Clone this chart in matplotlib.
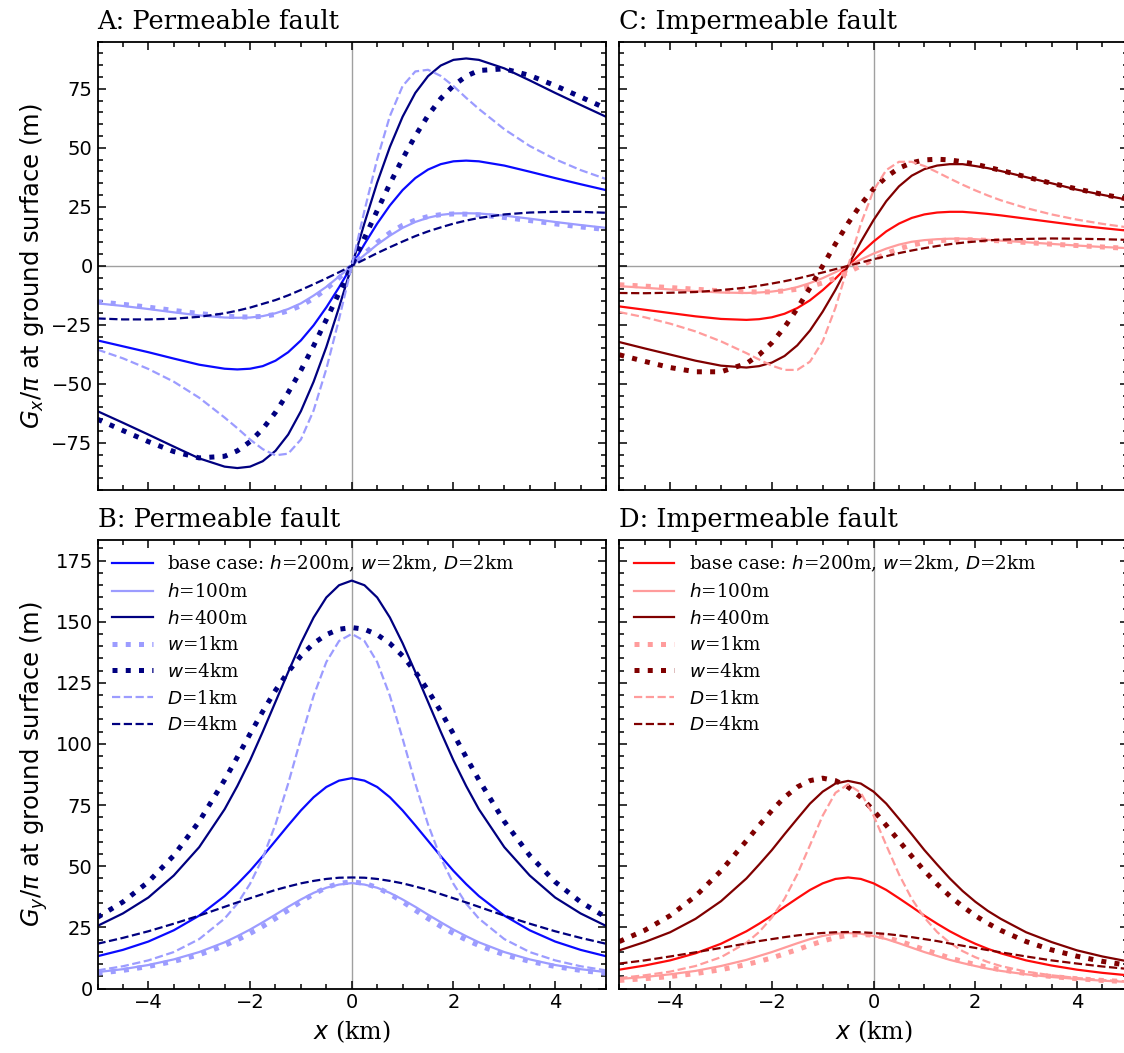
import matplotlib.pyplot as plt
from matplotlib.ticker import MultipleLocator

# x positions (km) shared by every curve
x_km = [-5, -4.5, -4, -3.5, -3, -2.5, -2.25, -2, -1.75, -1.5, -1.25, -1, -0.75, -0.5, -0.25, 0,
        0.25, 0.5, 0.75, 1, 1.25, 1.5, 1.75, 2, 2.25, 2.5, 3, 3.5, 4, 4.5, 5]

# A: Gx/pi, permeable fault
gx_perm_base = [-31.6, -34.1, -36.6, -39.3, -41.9, -43.6, -43.9, -43.6, -42.5, -40.2, -36.6, -31.6, -25.2, -17.6, -9.1, 0.0,
                9.2, 17.9, 25.6, 32.1, 37.2, 40.8, 43.1, 44.3, 44.6, 44.3, 42.5, 39.9, 37.2, 34.6, 32.1]
gx_perm_h100 = [-15.9, -17.0, -18.3, -19.7, -21.0, -21.9, -22.0, -21.9, -21.3, -20.1, -18.3, -15.9, -12.6, -8.9, -4.5, 0.0,
                4.6, 9.0, 12.8, 16.1, 18.6, 20.4, 21.6, 22.2, 22.3, 22.2, 21.3, 20.0, 18.6, 17.3, 16.1]
gx_perm_h400 = [-61.6, -66.5, -71.5, -76.6, -81.6, -85.1, -85.7, -85.1, -82.8, -78.4, -71.5, -61.6, -49.1, -34.4, -17.6, 0.0,
                18.1, 35.3, 50.4, 63.2, 73.3, 80.4, 84.9, 87.3, 87.9, 87.3, 83.7, 78.6, 73.3, 68.2, 63.2]
gx_perm_w1 = [-15.2, -16.3, -17.5, -18.9, -20.2, -21.3, -21.6, -21.7, -21.4, -20.6, -19.1, -16.9, -13.8, -9.8, -5.1, 0.0,
              5.2, 9.9, 14.0, 17.2, 19.4, 20.9, 21.7, 22.0, 21.9, 21.6, 20.5, 19.2, 17.8, 16.5, 15.4]
gx_perm_w4 = [-65.0, -69.8, -74.5, -78.7, -81.4, -80.7, -78.4, -74.5, -69.1, -62.1, -53.7, -44.3, -33.9, -22.8, -11.5, 0.0,
              11.8, 23.4, 34.8, 45.4, 55.1, 63.7, 70.9, 76.4, 80.4, 82.8, 83.5, 80.7, 76.4, 71.6, 66.7]
gx_perm_d1 = [-35.5, -39.2, -43.7, -49.1, -55.9, -64.3, -68.8, -73.6, -77.7, -80.3, -79.6, -73.6, -61.3, -43.7, -22.6, 0.0,
              23.4, 45.2, 63.5, 76.2, 82.4, 83.1, 80.5, 76.2, 71.2, 66.5, 57.9, 50.8, 45.2, 40.6, 36.8]
gx_perm_d4 = [-22.3, -22.7, -22.7, -22.4, -21.6, -20.1, -19.0, -17.7, -16.1, -14.5, -12.5, -10.2, -7.8, -5.3, -2.7, 0.0,
              2.7, 5.4, 7.9, 10.3, 12.6, 14.6, 16.3, 17.9, 19.2, 20.3, 21.8, 22.6, 22.9, 22.9, 22.5]

# B: Gy/pi, permeable fault
gy_perm_base = [13.2, 15.8, 19.2, 23.8, 29.8, 37.8, 42.7, 48.1, 54.1, 60.4, 66.7, 72.8, 78.2, 82.4, 85.0, 86.0,
                85.0, 82.4, 78.2, 72.8, 66.7, 60.4, 54.1, 48.1, 42.7, 37.8, 29.8, 23.8, 19.2, 15.8, 13.2]
gy_perm_h100 = [6.7, 7.9, 9.6, 11.9, 14.9, 18.9, 21.4, 24.1, 27.1, 30.2, 33.4, 36.4, 39.1, 41.2, 42.5, 43.1,
                42.5, 41.2, 39.1, 36.4, 33.4, 30.2, 27.1, 24.1, 21.4, 18.9, 14.9, 11.9, 9.6, 7.9, 6.7]
gy_perm_h400 = [25.6, 30.7, 37.2, 46.2, 57.8, 73.3, 82.8, 93.3, 105.0, 117.2, 129.4, 141.2, 151.7, 159.9, 164.9, 166.8,
                164.9, 159.9, 151.7, 141.2, 129.4, 117.2, 105.0, 93.3, 82.8, 73.3, 57.8, 46.2, 37.2, 30.7, 25.6]
gy_perm_w1 = [6.2, 7.4, 9.0, 11.1, 13.8, 17.6, 19.9, 22.5, 25.4, 28.6, 32.0, 35.5, 38.6, 41.3, 43.0, 43.6,
              43.0, 41.3, 38.6, 35.5, 32.0, 28.6, 25.4, 22.5, 19.9, 17.6, 13.8, 11.1, 9.0, 7.4, 6.2]
gy_perm_w4 = [29.1, 35.4, 43.6, 54.4, 68.3, 85.3, 94.6, 104.1, 113.3, 121.9, 129.5, 136.0, 141.1, 144.7, 146.9, 147.6,
              146.9, 144.7, 141.1, 136.0, 129.5, 121.9, 113.3, 104.1, 94.6, 85.3, 68.3, 54.4, 43.6, 35.4, 29.1]
gy_perm_d1 = [7.4, 9.1, 11.5, 14.9, 20.2, 28.6, 34.7, 42.8, 53.4, 67.1, 83.8, 102.2, 119.7, 133.5, 142.1, 145.0,
              142.1, 133.5, 119.7, 102.2, 83.8, 67.1, 53.4, 42.8, 34.7, 28.6, 20.2, 14.9, 11.5, 9.1, 7.4]
gy_perm_d4 = [18.3, 20.7, 23.4, 26.5, 29.8, 33.4, 35.2, 36.9, 38.6, 40.3, 41.7, 43.0, 44.0, 44.8, 45.3, 45.4,
              45.3, 44.8, 44.0, 43.0, 41.7, 40.3, 38.6, 36.9, 35.2, 33.4, 29.8, 26.5, 23.4, 20.7, 18.3]

# C: Gx/pi, impermeable fault
gx_imp_base = [-17.2, -18.6, -20.0, -21.4, -22.5, -22.9, -22.6, -21.8, -20.3, -17.9, -14.6, -10.3, -5.4, 0.0, 5.4, 10.3,
               14.6, 17.9, 20.3, 21.8, 22.6, 22.9, 22.9, 22.5, 22.0, 21.4, 20.0, 18.6, 17.2, 16.0, 14.9]
gx_imp_h100 = [-8.6, -9.3, -10.0, -10.7, -11.3, -11.5, -11.3, -10.9, -10.2, -9.0, -7.3, -5.2, -2.7, 0.0, 2.7, 5.2,
               7.3, 9.0, 10.2, 10.9, 11.3, 11.5, 11.5, 11.3, 11.0, 10.7, 10.0, 9.3, 8.6, 8.0, 7.5]
gx_imp_h400 = [-32.3, -35.0, -37.6, -40.2, -42.3, -43.1, -42.5, -41.0, -38.2, -33.7, -27.4, -19.4, -10.2, 0.0, 10.2, 19.4,
               27.4, 33.7, 38.2, 41.0, 42.5, 43.1, 43.1, 42.3, 41.4, 40.2, 37.6, 35.0, 32.3, 30.1, 28.0]
gx_imp_w1 = [-8.0, -8.6, -9.2, -9.9, -10.6, -11.0, -11.1, -11.0, -10.6, -9.9, -8.8, -7.2, -5.2, -2.7, 0.0, 2.7,
             5.2, 7.2, 8.8, 9.9, 10.6, 11.0, 11.1, 11.0, 10.8, 10.6, 9.9, 9.2, 8.6, 8.0, 7.4]
gx_imp_w4 = [-37.7, -40.5, -43.1, -44.9, -44.9, -41.4, -37.7, -32.6, -26.0, -18.1, -9.3, 0.0, 9.3, 18.1, 26.0, 32.6,
             37.7, 41.4, 43.7, 44.9, 45.2, 44.9, 44.1, 43.1, 41.8, 40.5, 37.7, 35.0, 32.6, 30.3, 28.3]
gx_imp_d1 = [-19.6, -21.8, -24.5, -27.8, -32.0, -37.0, -39.7, -42.3, -44.1, -44.1, -40.6, -32.0, -17.8, 0.0, 17.8, 32.0,
             40.6, 44.1, 44.1, 42.3, 39.7, 37.0, 34.4, 32.0, 29.8, 27.8, 24.5, 21.8, 19.6, 17.8, 16.3]
gx_imp_d4 = [-11.5, -11.6, -11.4, -11.1, -10.3, -9.2, -8.4, -7.5, -6.5, -5.4, -4.1, -2.8, -1.4, 0.0, 1.4, 2.8,
             4.1, 5.4, 6.5, 7.5, 8.4, 9.2, 9.8, 10.3, 10.8, 11.1, 11.4, 11.6, 11.5, 11.3, 11.0]

# D: Gy/pi, impermeable fault
gy_imp_base = [7.7, 9.4, 11.5, 14.4, 18.3, 23.4, 26.5, 29.8, 33.4, 36.9, 40.3, 43.0, 44.8, 45.4, 44.8, 43.0,
               40.3, 36.9, 33.4, 29.8, 26.5, 23.4, 20.7, 18.3, 16.2, 14.4, 11.5, 9.4, 7.7, 6.4, 5.4]
gy_imp_h100 = [3.9, 4.7, 5.8, 7.2, 9.2, 11.7, 13.3, 14.9, 16.7, 18.5, 20.2, 21.5, 22.4, 22.7, 22.4, 21.5,
               20.2, 18.5, 16.7, 14.9, 13.3, 11.7, 10.4, 9.2, 8.1, 7.2, 5.8, 4.7, 3.9, 3.2, 2.7]
gy_imp_h400 = [15.6, 19.0, 23.0, 28.5, 35.7, 45.0, 50.7, 56.6, 63.1, 69.4, 75.6, 80.5, 83.8, 84.9, 83.8, 80.5,
               75.6, 69.4, 63.1, 56.6, 50.7, 45.0, 39.9, 35.5, 31.7, 28.5, 23.0, 19.0, 15.6, 13.1, 11.1]
gy_imp_w1 = [3.3, 4.0, 4.9, 6.1, 7.7, 9.8, 11.1, 12.5, 14.2, 15.9, 17.7, 19.4, 20.8, 21.8, 22.1, 21.8,
             20.8, 19.4, 17.7, 15.9, 14.2, 12.5, 11.1, 9.8, 8.6, 7.7, 6.1, 4.9, 4.0, 3.3, 2.8]
gy_imp_w4 = [19.2, 23.8, 29.8, 37.8, 48.1, 60.4, 66.7, 72.8, 78.2, 82.4, 85.0, 86.0, 85.0, 82.4, 78.2, 72.8,
             66.7, 60.4, 54.1, 48.1, 42.7, 37.8, 33.6, 29.8, 26.6, 23.8, 19.2, 15.8, 13.2, 11.1, 9.5]
gy_imp_d1 = [4.3, 5.4, 6.9, 9.2, 12.8, 18.7, 23.1, 29.0, 36.7, 46.7, 58.6, 70.7, 80.0, 83.5, 80.0, 70.7,
             58.6, 46.7, 36.7, 29.0, 23.1, 18.7, 15.3, 12.8, 10.8, 9.2, 6.9, 5.4, 4.3, 3.5, 2.9]
gy_imp_d4 = [10.2, 11.5, 13.1, 14.8, 16.6, 18.4, 19.4, 20.2, 21.0, 21.7, 22.3, 22.7, 23.0, 23.1, 23.0, 22.7,
             22.3, 21.7, 21.0, 20.2, 19.4, 18.4, 17.5, 16.6, 15.7, 14.8, 13.1, 11.5, 10.2, 9.0, 8.0]

case_labels = ['base case: $h$=200m, $w$=2km, $D$=2km', '$h$=100m', '$h$=400m',
               '$w$=1km', '$w$=4km', '$D$=1km', '$D$=4km']

BLUES = {'base': '#0a0aff', 'light': '#9c9cff', 'dark': '#000080'}
REDS = {'base': '#ff0a0a', 'light': '#ff9c9c', 'dark': '#800000'}
# (shade, linestyle, linewidth) for each case, same order as case_labels
CASE_STYLES = [('base', '-', 1.6), ('light', '-', 1.6), ('dark', '-', 1.6),
               ('light', ':', 3.6), ('dark', ':', 3.6), ('light', '--', 1.6), ('dark', '--', 1.6)]

SERIF = 'DejaVu Serif'
SANS = 'DejaVu Sans'

plt.rcParams['font.family'] = SANS
plt.rcParams['mathtext.fontset'] = 'dejavusans'

W_PX, H_PX = 1124, 1053
fig = plt.figure(figsize=(W_PX/100, H_PX/100), dpi=100)


def px_axes(left:float, top:float, right:float, bottom:float):
	return fig.add_axes((left/W_PX, 1 - bottom/H_PX, (right-left)/W_PX, (bottom-top)/H_PX))


def style_axes(ax, ymajor:float, yminor:float):
	ax.xaxis.set_major_locator(MultipleLocator(2))
	ax.xaxis.set_minor_locator(MultipleLocator(0.5))
	ax.yaxis.set_major_locator(MultipleLocator(ymajor))
	ax.yaxis.set_minor_locator(MultipleLocator(yminor))
	ax.tick_params(which='both', direction='in', top=True, right=True, labelsize=14, width=1.1)
	ax.tick_params(which='major', length=6)
	ax.tick_params(which='minor', length=3.5)
	for spine in ax.spines.values():
		spine.set_linewidth(1.3)


panels = [
	# title, series, palette, box in pixels, is_gy
	('A: Permeable fault', [gx_perm_base, gx_perm_h100, gx_perm_h400, gx_perm_w1, gx_perm_w4, gx_perm_d1, gx_perm_d4],
	 BLUES, (97.5, 41.7, 606, 490), False),
	('C: Impermeable fault', [gx_imp_base, gx_imp_h100, gx_imp_h400, gx_imp_w1, gx_imp_w4, gx_imp_d1, gx_imp_d4],
	 REDS, (619.3, 41.7, 1127.8, 490), False),
	('B: Permeable fault', [gy_perm_base, gy_perm_h100, gy_perm_h400, gy_perm_w1, gy_perm_w4, gy_perm_d1, gy_perm_d4],
	 BLUES, (97.5, 539.5, 606, 988.5), True),
	('D: Impermeable fault', [gy_imp_base, gy_imp_h100, gy_imp_h400, gy_imp_w1, gy_imp_w4, gy_imp_d1, gy_imp_d4],
	 REDS, (619.3, 539.5, 1127.8, 988.5), True),
]

for title, series, palette, box, is_gy in panels:
	ax = px_axes(*box)
	ax.axvline(0, color='#a0a0a0', lw=1.0, zorder=0)
	if not is_gy:
		ax.axhline(0, color='#a0a0a0', lw=1.0, zorder=0)

	for values, label, (shade, ls, lw) in zip(series, case_labels, CASE_STYLES):
		ax.plot(x_km, values, color=palette[shade], ls=ls, lw=lw, label=label)

	ax.set_xlim(-5, 5)
	if is_gy:
		ax.set_ylim(0, 183.6)
		style_axes(ax, 25, 5)
		ax.set_xlabel('$x$ (km)', fontsize=17, family=SERIF)
		ax.legend(loc='upper left', frameon=False, prop={'family': SERIF, 'size': 13.2},
		          handlelength=2.2, labelspacing=0.47, borderaxespad=0.4, handletextpad=0.8)
	else:
		ax.set_ylim(-95, 95)
		style_axes(ax, 25, 5)
		ax.tick_params(labelbottom=False)

	if box[0] < 300:
		ax.set_ylabel('$G_y/\\pi$ at ground surface (m)' if is_gy else '$G_x/\\pi$ at ground surface (m)',
		              fontsize=17.5)
	else:
		ax.tick_params(labelleft=False)

	ax.set_title(title, loc='left', fontsize=18.5, family=SERIF, pad=9)

fig.savefig('out.png', dpi=100)
